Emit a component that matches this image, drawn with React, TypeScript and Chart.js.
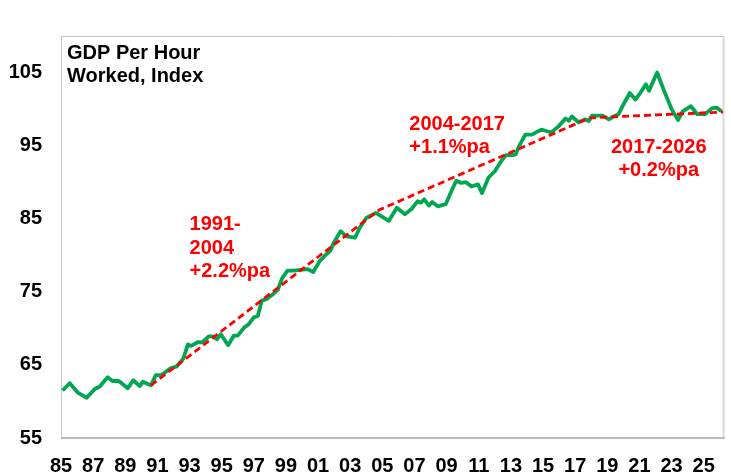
import { useEffect, useRef } from "react";
import { Chart, ChartConfiguration, Plugin, registerables } from "chart.js";

Chart.register(...registerables);

// Decimal year of each observation and the GDP per hour worked index value
const obsYears = [
  1985.1, 1985.55, 1986.05, 1986.6, 1987.1, 1987.4, 1987.9, 1988.2, 1988.6, 1989.15,
  1989.5, 1989.9, 1990.1, 1990.6, 1990.9, 1991.25, 1991.8, 1992.2, 1992.6, 1992.9,
  1993.1, 1993.5, 1993.8, 1994.2, 1994.45, 1994.7, 1994.95, 1995.4, 1995.75, 1996.0,
  1996.4, 1996.7, 1997.0, 1997.25, 1997.5, 1997.8, 1998.2, 1998.5, 1998.75, 1999.1,
  1999.5, 1999.9, 2000.35, 2000.7, 2001.1, 2001.45, 2001.75, 2002.0, 2002.4, 2002.75,
  2003.3, 2003.6, 2004.0, 2004.6, 2004.9, 2005.4, 2005.9, 2006.4, 2006.8, 2007.2,
  2007.4, 2007.6, 2007.9, 2008.1, 2008.45, 2008.95, 2009.3, 2009.6, 2009.9, 2010.2,
  2010.55, 2010.95, 2011.2, 2011.6, 2012.0, 2012.4, 2012.7, 2013.1, 2013.3, 2013.5,
  2013.9, 2014.3, 2014.9, 2015.2, 2015.5, 2015.95, 2016.4, 2016.6, 2016.8, 2017.2,
  2017.65, 2017.85, 2018.05, 2018.7, 2019.1, 2019.4, 2019.7, 2020.0, 2020.4, 2020.75,
  2021.05, 2021.4, 2021.6, 2022.1, 2022.5, 2023.0, 2023.4, 2023.7, 2024.2, 2024.6,
  2025.1, 2025.5, 2025.8, 2026.1,
];

const gdpPerHour = [
  61.5, 62.5, 61.2, 60.5, 61.7, 62.0, 63.3, 62.8, 62.8, 61.8,
  62.9, 62.1, 62.7, 62.2, 63.6, 63.6, 64.5, 64.8, 65.8, 67.8,
  67.6, 68.1, 68.1, 68.9, 68.9, 68.5, 69.2, 67.7, 69.0, 69.0,
  70.1, 70.6, 71.5, 71.7, 73.8, 74.0, 74.7, 75.3, 76.8, 77.9,
  77.9, 78.0, 78.1, 77.7, 79.2, 80.0, 80.6, 81.8, 83.3, 82.6,
  82.4, 83.8, 85.1, 85.8, 85.4, 84.7, 86.5, 85.6, 86.3, 87.4,
  87.2, 87.65, 86.8, 87.3, 86.7, 87.0, 88.8, 90.2, 89.9, 90.0,
  89.4, 89.7, 88.5, 90.6, 91.5, 92.9, 93.7, 93.7, 93.8, 94.9,
  96.5, 96.5, 97.2, 97.0, 96.8, 97.6, 98.7, 98.4, 99.0, 98.2,
  98.6, 98.35, 99.1, 99.1, 98.6, 99.0, 99.3, 100.6, 102.2, 101.3,
  102.2, 103.4, 102.5, 105.0, 102.7, 100.0, 98.5, 99.7, 100.4, 99.3,
  99.3, 100.1, 100.2, 99.7,
];

// Piecewise trend: 1991-2004, 2004-2017, 2017-2026
const trendYears = [1990.6, 2004.8, 2017.9, 2026.2];
const trendValues = [62.2, 86.2, 98.8, 99.6];

const xTickYears = [
  1985, 1987, 1989, 1991, 1993, 1995, 1997, 1999, 2001, 2003, 2005,
  2007, 2009, 2011, 2013, 2015, 2017, 2019, 2021, 2023, 2025,
];
const yTickValues = [55, 65, 75, 85, 95, 105];

const titleLines = ["GDP Per Hour", "Worked, Index"];

// Annotation text blocks, anchored in data coordinates
const noteTexts = [
  ["1991-", "2004", "+2.2%pa"],
  ["2004-2017", "+1.1%pa"],
  ["2017-2026", "+0.2%pa"],
];
const noteYears = [1993.0, 2006.68, 2022.2];
const noteValues = [84.2, 97.9, 94.75];
const noteAligns: CanvasTextAlign[] = ["left", "left", "center"];

const FONT = "'Liberation Sans', Arial, Helvetica, sans-serif";

const frameAndNotes: Plugin<"line"> = {
  id: "frameAndNotes",
  beforeDatasetsDraw(chart) {
    const { ctx, chartArea: a } = chart;
    ctx.save();
    ctx.lineWidth = 1;
    ctx.strokeStyle = "#c4c4c4";
    ctx.beginPath();
    ctx.moveTo(a.left + 0.5, a.bottom);
    ctx.lineTo(a.left + 0.5, a.top + 0.5);
    ctx.lineTo(a.right, a.top + 0.5);
    ctx.stroke();
    ctx.strokeStyle = "#d9d9d9";
    ctx.lineWidth = 2;
    ctx.beginPath();
    ctx.moveTo(a.right, a.top);
    ctx.lineTo(a.right, a.bottom);
    ctx.stroke();
    ctx.strokeStyle = "#a6a6a6";
    ctx.lineWidth = 1.5;
    ctx.beginPath();
    ctx.moveTo(a.left, a.bottom);
    ctx.lineTo(a.right + 1, a.bottom);
    ctx.stroke();
    ctx.restore();
  },
  afterDraw(chart) {
    const { ctx, chartArea: a } = chart;
    const xs = chart.scales.x;
    const ys = chart.scales.y;
    ctx.save();
    ctx.font = `bold 20px ${FONT}`;
    ctx.textBaseline = "middle";
    ctx.fillStyle = "#000";
    ctx.textAlign = "left";
    titleLines.forEach((t, i) => ctx.fillText(t, a.left + 6, a.top + 17 + i * 23));

    ctx.fillStyle = "#ff0000";
    noteTexts.forEach((lines, n) => {
      const px = xs.getPixelForValue(noteYears[n]);
      const py = ys.getPixelForValue(noteValues[n]);
      ctx.textAlign = noteAligns[n];
      lines.forEach((t, i) => ctx.fillText(t, px, py + i * 23.5));
    });
    ctx.restore();
  },
};

export default function App() {
  const canvasRef = useRef<HTMLCanvasElement>(null);
  const chartRef = useRef<Chart | null>(null);

  useEffect(() => {
    document.body.style.margin = "0";
    if (!canvasRef.current) return;
    if (chartRef.current) chartRef.current.destroy();

    const config: ChartConfiguration<"line"> = {
      type: "line",
      data: {
        datasets: [
          {
            label: "GDP per hour worked",
            data: obsYears.map((x, i) => ({ x, y: gdpPerHour[i] })),
            borderColor: "#00a650",
            borderWidth: 3.8,
            pointRadius: 0,
            tension: 0,
            borderJoinStyle: "round",
            order: 2,
          },
          {
            label: "Trend",
            data: trendYears.map((x, i) => ({ x, y: trendValues[i] })),
            borderColor: "#ff0000",
            borderWidth: 2.8,
            borderDash: [7, 4],
            pointRadius: 0,
            tension: 0,
            order: 1,
          },
        ],
      },
      options: {
        responsive: false,
        animation: false,
        devicePixelRatio: 1,
        layout: { padding: { left: 0, top: 36, right: 6, bottom: 0 } },
        plugins: {
          legend: { display: false },
          tooltip: { enabled: false },
        },
        scales: {
          x: {
            type: "linear",
            min: 1985,
            max: 2026.24,
            grid: { display: false, drawTicks: false },
            border: { display: false },
            afterBuildTicks: (scale) => {
              scale.ticks = xTickYears.map((value) => ({ value }));
            },
            afterFit: (scale) => {
              scale.height = 38;
            },
            ticks: {
              autoSkip: false,
              maxRotation: 0,
              padding: 16,
              color: "#000",
              font: { family: FONT, size: 20, weight: "bold" },
              callback: (v) => String(Number(v) % 100).padStart(2, "0"),
            },
          },
          y: {
            min: 55,
            max: 110,
            grid: { display: false, drawTicks: false },
            border: { display: false },
            afterBuildTicks: (scale) => {
              scale.ticks = yTickValues.map((value) => ({ value }));
            },
            afterFit: (scale) => {
              scale.width = 61;
            },
            ticks: {
              padding: 19,
              color: "#000",
              font: { family: FONT, size: 20, weight: "bold" },
            },
          },
        },
      },
      plugins: [frameAndNotes],
    };

    chartRef.current = new Chart(canvasRef.current, config);

    return () => {
      if (chartRef.current) {
        chartRef.current.destroy();
        chartRef.current = null;
      }
    };
  }, []);

  return (
    <div style={{ width: 731, height: 476, background: "#fff" }}>
      <canvas ref={canvasRef} width={731} height={476} />
    </div>
  );
}
